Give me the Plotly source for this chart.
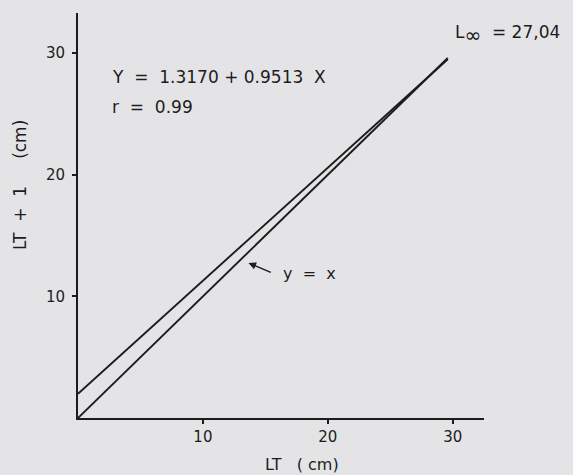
import plotly.graph_objects as go

# Data
lt = [0.0, 29.6]                 # LT (cm) at line ends
regression_y = [2.0, 29.5]       # Y = 1.3170 + 0.9513 X (as drawn)
identity_y = [0.0, 29.6]         # y = x
x_ticks = [10, 20, 30]
y_ticks = [10, 20, 30]

ink = "#1c1c1c"
bg = "#e4e4e7"
font = "DejaVu Sans"

fig = go.Figure()
fig.add_trace(go.Scatter(x=lt, y=regression_y, mode="lines",
                         line=dict(color=ink, width=1.9), showlegend=False))
fig.add_trace(go.Scatter(x=lt, y=identity_y, mode="lines",
                         line=dict(color=ink, width=1.9), showlegend=False))

fig.update_layout(
    width=573, height=475,
    margin=dict(l=78, r=89, t=13, b=57),
    paper_bgcolor=bg, plot_bgcolor=bg,
    font=dict(family=font, color=ink, size=14),
    xaxis=dict(range=[0, 32.5], showgrid=False, zeroline=False,
               showline=True, linecolor=ink, linewidth=2,
               ticks="outside", ticklen=4, tickwidth=1.5, tickcolor=ink,
               tickvals=x_ticks, tickfont=dict(size=15)),
    yaxis=dict(range=[0, 33.3], showgrid=False, zeroline=False,
               showline=True, linecolor=ink, linewidth=2,
               ticks="outside", ticklen=4, tickwidth=1.5, tickcolor=ink,
               tickvals=y_ticks, tickfont=dict(size=15), ticklabelstandoff=4),
)

ann = [
    dict(x=2.56, y=28.0, xref="x", yref="y", xanchor="left", yanchor="middle",
         text="Y  =  1.3170 + 0.9513  X", showarrow=False, font=dict(size=17)),
    dict(x=2.56, y=25.6, xref="x", yref="y", xanchor="left", yanchor="middle",
         text="r  =  0.99", showarrow=False, font=dict(size=17)),
    dict(x=30.0, y=31.5, xref="x", yref="y", xanchor="left", yanchor="middle",
         text="L<sub><span style='font-size:20px'>∞</span></sub>  = 27,04",
         showarrow=False, font=dict(size=17)),
    dict(x=16.25, y=11.9, xref="x", yref="y", xanchor="left", yanchor="middle",
         text="y  =  x", showarrow=False, font=dict(size=16)),
    dict(x=13.65, y=12.75, xref="x", yref="y", ax=15.55, ay=11.92,
         axref="x", ayref="y", text="", showarrow=True, arrowhead=2,
         arrowsize=1, arrowwidth=1.5, arrowcolor=ink),
    dict(x=0.552, y=-0.116, xref="paper", yref="paper", xanchor="center",
         yanchor="middle", text="LT   ( cm)", showarrow=False, font=dict(size=16)),
    dict(x=-0.143, y=0.575, xref="paper", yref="paper", xanchor="center",
         yanchor="middle", text="LT  +  1     (cm)", textangle=-90,
         showarrow=False, font=dict(size=17)),
]
fig.update_layout(annotations=ann)

fig.write_html(
    "out.html",
    config={"displayModeBar": False},
    post_script="document.body.style.margin='0';document.body.style.background='%s';" % bg,
)
